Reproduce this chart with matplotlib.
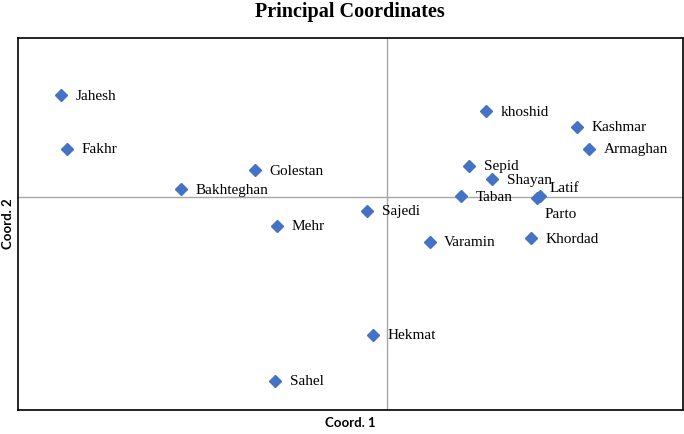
import matplotlib.pyplot as plt

names = ['Jahesh', 'Fakhr', 'Golestan', 'Bakhteghan', 'Mehr', 'Sajedi', 'Hekmat',
         'Sahel', 'khoshid', 'Kashmar', 'Armaghan', 'Sepid', 'Shayan', 'Taban',
         'Latif', 'Parto', 'Varamin', 'Khordad']
coord1 = [-0.442, -0.434, -0.179, -0.279, -0.149, -0.027, -0.019,
          -0.152, 0.134, 0.256, 0.273, 0.111, 0.142, 0.100,
          0.206, 0.203, 0.057, 0.194]
coord2 = [0.192, 0.092, 0.051, 0.015, -0.053, -0.026, -0.258,
          -0.345, 0.162, 0.132, 0.092, 0.060, 0.034, 0.002,
          0.002, -0.001, -0.083, -0.077]

# label offsets in points (dx, dy)
offsets = {'Latif': (7, 6), 'Parto': (5, -12)}

fig = plt.figure(figsize=(6.84, 4.34), dpi=100)
ax = fig.add_axes([18 / 684, 1 - 410 / 434, 665 / 684, 372 / 434])

ax.axhline(0, color='#a6a6a6', lw=1, zorder=1)
ax.axvline(0, color='#a6a6a6', lw=1, zorder=1)
ax.plot(coord1, coord2, 'D', color='#4472c4', ms=6.5, zorder=3, ls='none')

for name, xv, yv in zip(names, coord1, coord2):
    dx, dy = offsets.get(name, (10.5, -0.5))
    ax.annotate(name, (xv, yv), xytext=(dx, dy), textcoords='offset points',
                va='center', ha='left', fontsize=11, family='Liberation Serif')

ax.set_xlim(-0.5, 0.4)
ax.set_ylim(-0.4, 0.3)
ax.set_xticks([])
ax.set_yticks([])
for s in ax.spines.values():
    s.set_linewidth(1.2)
    s.set_color('black')

fig.text(350 / 684, 1 - 12 / 434, 'Principal Coordinates', ha='center', va='center',
         fontsize=14.5, fontweight='bold', family='Liberation Serif')
fig.text(350 / 684, 1 - 423 / 434, 'Coord. 1', ha='center', va='center',
         fontsize=9.5, fontweight='bold', family='Lato')
fig.text(8 / 684, 1 - 224 / 434, 'Coord. 2', ha='center', va='center', rotation=90,
         fontsize=9.5, fontweight='bold', family='Lato')

fig.savefig('out.png', dpi=100)
